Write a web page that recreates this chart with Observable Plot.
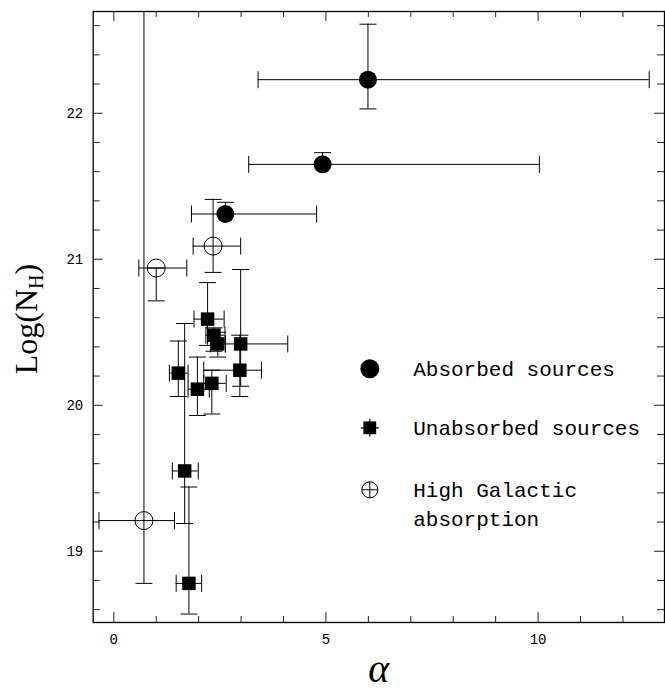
<!DOCTYPE html>
<html>
<head>
<meta charset="utf-8">
<script src="https://cdn.jsdelivr.net/npm/d3@7"></script>
<script src="https://cdn.jsdelivr.net/npm/@observablehq/plot@0.6"></script>
<style>
  html, body { margin: 0; padding: 0; background: #fff; }
  #chart svg { display: block; }
</style>
</head>
<body>
<div id="chart"></div>
<script>
// ---- Data ----
// Absorbed sources (filled circles)
const absorbedAlpha = [5.99, 4.92, 2.63];
const absorbedLogNH = [22.23, 21.65, 21.31];
const absorbedAlphaErr = [[3.40, 12.62], [3.18, 10.03], [1.83, 4.78]];
const absorbedLogNHErr = [[22.03, 22.61], [21.65, 21.73], [21.31, 21.39]];

// Unabsorbed sources (filled squares)
const unabsorbedAlpha = [2.21, 2.36, 2.45, 2.99, 2.97, 1.52, 1.97, 2.31, 1.67, 1.77];
const unabsorbedLogNH = [20.59, 20.48, 20.42, 20.42, 20.24, 20.22, 20.11, 20.15, 19.55, 18.78];
const unabsorbedAlphaErr = [[1.89, 2.60], [2.17, 2.62], [2.28, 2.63], [2.63, 4.10], [2.12, 3.48],
                            [1.31, 1.75], [1.75, 2.25], [2.12, 2.65], [1.38, 1.99], [1.47, 2.07]];
const unabsorbedLogNHErr = [[20.41, 20.84], [20.37, 20.53], [20.33, 20.50], [20.13, 20.93], [20.06, 20.48],
                            [20.06, 20.44], [19.93, 20.33], [19.94, 20.24], [19.19, 20.56], [18.57, 19.44]];

// High Galactic absorption (open circles)
const highGalAlpha = [2.34, 1.00, 0.71];
const highGalLogNH = [21.09, 20.94, 19.21];
const highGalAlphaErr = [[1.87, 2.99], [0.59, 1.72], [-0.35, 1.43]];
const highGalLogNHErr = [[20.91, 21.41], [20.715, 20.94], [18.78, 23.0]];

// Axis ticks
const xMajorTicks = [0, 5, 10];
const xMinorTicks = [1, 2, 3, 4, 6, 7, 8, 9, 11, 12];
const yMajorTicks = [19, 20, 21, 22];
const yMinorTicks = [18.6, 18.8, 19.2, 19.4, 19.6, 19.8, 20.2, 20.4, 20.6, 20.8,
                     21.2, 21.4, 21.6, 21.8, 22.2, 22.4, 22.6];

// Legend labels
const legendLabels = ["Absorbed sources", "Unabsorbed sources", "High Galactic\nabsorption"];
const xLabel = "α";
const yLabel = "Log(NH)";

// ---- Build table ----
function rows(group, xs, ys, xe, ye) {
  return xs.map((x, i) => ({group, x, y: ys[i], xlo: xe[i][0], xhi: xe[i][1], ylo: ye[i][0], yhi: ye[i][1]}));
}
const absorbed = rows("absorbed", absorbedAlpha, absorbedLogNH, absorbedAlphaErr, absorbedLogNHErr);
const unabsorbed = rows("unabsorbed", unabsorbedAlpha, unabsorbedLogNH, unabsorbedAlphaErr, unabsorbedLogNHErr);
const highGal = rows("high", highGalAlpha, highGalLogNH, highGalAlphaErr, highGalLogNHErr);
const all = [...absorbed, ...unabsorbed, ...highGal];

// ---- Layout ----
const width = 665, height = 694;
const mTop = 11, mBottom = 72, mLeft = 92.7, mRight = 1;
const plotH = height - mTop - mBottom;
const plotW = width - mLeft - mRight;
const tickFont = "Liberation Mono, DejaVu Sans Mono, monospace";

// custom line symbols (half-length = r)
const vLine = {draw(ctx, size) { const h = Math.sqrt(size / Math.PI); ctx.moveTo(0, -h); ctx.lineTo(0, h); }};
const hLine = {draw(ctx, size) { const h = Math.sqrt(size / Math.PI); ctx.moveTo(-h, 0); ctx.lineTo(h, 0); }};
const plus = {draw(ctx, size) { const h = Math.sqrt(size / Math.PI); ctx.moveTo(-h, 0); ctx.lineTo(h, 0); ctx.moveTo(0, -h); ctx.lineTo(0, h); }};

const capR = 8.5;
const legendSymbolDx = 276.6;
const legendTextDx = 320;
const legendRowDy = [357.3, 416.3, 478.3];

const legendMarks = [
  Plot.dot([0], {frameAnchor: "top-left", dx: legendSymbolDx, dy: legendRowDy[0], r: 9.5, fill: "black"}),
  Plot.dot([0], {frameAnchor: "top-left", dx: legendSymbolDx, dy: legendRowDy[1], r: 9, symbol: plus, stroke: "black", strokeWidth: 1.2}),
  Plot.dot([0], {frameAnchor: "top-left", dx: legendSymbolDx, dy: legendRowDy[1], r: 7.2, symbol: "square", fill: "black"}),
  Plot.dot([0], {frameAnchor: "top-left", dx: legendSymbolDx, dy: legendRowDy[2], r: 8, fill: "none", stroke: "black", strokeWidth: 1}),
  Plot.dot([0], {frameAnchor: "top-left", dx: legendSymbolDx, dy: legendRowDy[2], r: 8, symbol: plus, stroke: "black", strokeWidth: 1}),
  ...legendLabels.map((t, i) => Plot.text([t], {
    frameAnchor: "top-left", dx: legendTextDx, dy: legendRowDy[i] - 13,
    text: d => d, textAnchor: "start", lineAnchor: "top", lineHeight: 1.37,
    fontFamily: tickFont, fontSize: 21, fill: "black"
  }))
];

const chart = Plot.plot({
  width, height,
  marginTop: mTop, marginBottom: mBottom, marginLeft: mLeft, marginRight: mRight,
  x: {domain: [-0.486, 12.98]},
  y: {domain: [18.512, 22.697]},
  style: {background: "white"},
  marks: [
    // inward ticks: bottom, top, left, right
    Plot.tickX(xMinorTicks, {x: d => d, insetTop: plotH - 6, stroke: "#222"}),
    Plot.tickX(xMajorTicks, {x: d => d, insetTop: plotH - 10, stroke: "#222"}),
    Plot.tickX(xMinorTicks, {x: d => d, insetBottom: plotH - 6, stroke: "#222"}),
    Plot.tickX(xMajorTicks, {x: d => d, insetBottom: plotH - 10, stroke: "#222"}),
    Plot.tickY(yMinorTicks, {y: d => d, insetRight: plotW - 7, stroke: "#222"}),
    Plot.tickY(yMajorTicks, {y: d => d, insetRight: plotW - 10, stroke: "#222"}),
    Plot.tickY(yMinorTicks, {y: d => d, insetLeft: plotW - 7, stroke: "#222"}),
    Plot.tickY(yMajorTicks, {y: d => d, insetLeft: plotW - 10, stroke: "#222"}),
    // tick labels
    Plot.axisX({ticks: xMajorTicks, tickSize: 0, tickPadding: 12, label: null, fontSize: 14, fontFamily: tickFont, tickFormat: d => String(d)}),
    Plot.axisY({ticks: yMajorTicks, tickSize: 0, tickPadding: 10, label: null, fontSize: 14, fontFamily: tickFont, tickFormat: d => String(d)}),
    // error bars
    Plot.ruleY(all, {y: "y", x1: "xlo", x2: "xhi", stroke: "black", strokeWidth: 1, clip: true}),
    Plot.ruleX(all, {x: "x", y1: "ylo", y2: "yhi", stroke: "black", strokeWidth: 1, clip: true}),
    Plot.dot(all, {x: "xlo", y: "y", r: capR, symbol: vLine, stroke: "black", strokeWidth: 1, clip: true}),
    Plot.dot(all, {x: "xhi", y: "y", r: capR, symbol: vLine, stroke: "black", strokeWidth: 1, clip: true}),
    Plot.dot(all, {x: "x", y: "ylo", r: capR, symbol: hLine, stroke: "black", strokeWidth: 1, clip: true}),
    Plot.dot(all, {x: "x", y: "yhi", r: capR, symbol: hLine, stroke: "black", strokeWidth: 1, clip: true}),
    // markers
    Plot.dot(absorbed, {x: "x", y: "y", r: 9, fill: "black"}),
    Plot.dot(unabsorbed, {x: "x", y: "y", r: 7.6, symbol: "square", fill: "black"}),
    Plot.dot(highGal, {x: "x", y: "y", r: 9, fill: "none", stroke: "black", strokeWidth: 1}),
    // frame
    Plot.frame({stroke: "black", strokeWidth: 1.3}),
    // legend
    ...legendMarks,
    // axis titles
    Plot.text([xLabel], {frameAnchor: "bottom", dy: 47, lineAnchor: "middle", textAnchor: "middle", text: d => d, fontFamily: "Liberation Serif, serif", fontStyle: "italic", fontSize: 40, fill: "black"}),
    Plot.text([yLabel], {frameAnchor: "left", dx: -66, dy: 2, rotate: -90, textAnchor: "middle", lineAnchor: "middle", text: d => d, fontFamily: "Liberation Serif, serif", fontSize: 32, fill: "black"})
  ]
});

// subscript H in the y label
const yl = [...chart.querySelectorAll("text, tspan")].find(e => e.childElementCount === 0 && e.textContent === yLabel);
if (yl) {
  yl.textContent = "";
  const ns = "http://www.w3.org/2000/svg";
  yl.appendChild(document.createTextNode("Log(N"));
  const sub = document.createElementNS(ns, "tspan");
  sub.setAttribute("dy", "6");
  sub.setAttribute("font-size", "20");
  sub.textContent = "H";
  yl.appendChild(sub);
  const close = document.createElementNS(ns, "tspan");
  close.setAttribute("dy", "-6");
  close.textContent = ")";
  yl.appendChild(close);
}

document.getElementById("chart").appendChild(chart);
</script>
</body>
</html>
